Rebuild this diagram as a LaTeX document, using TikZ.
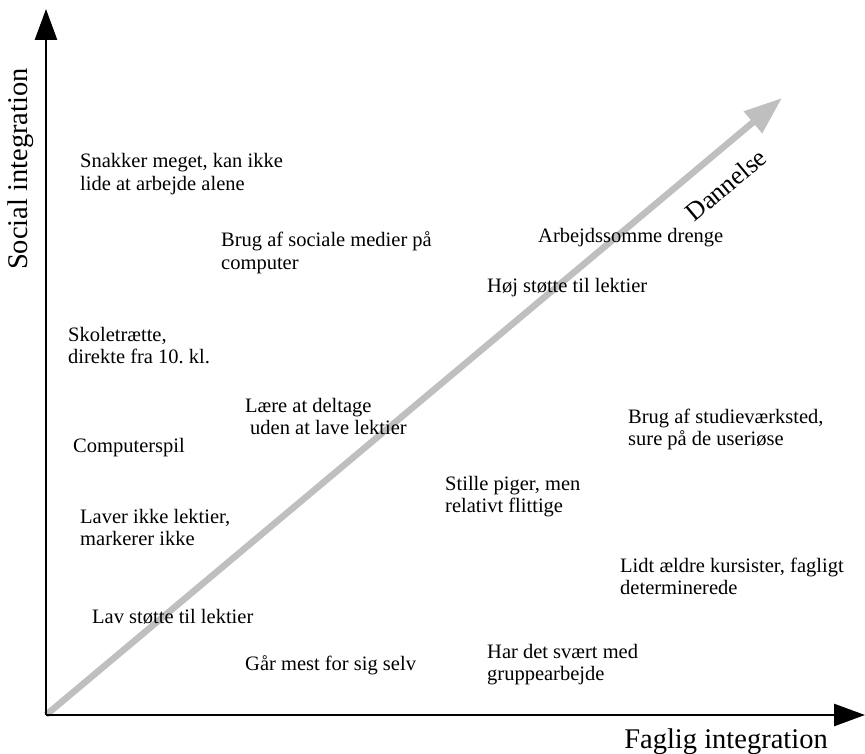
\documentclass[tikz,border=0pt]{standalone}
\usepackage{fontspec}
\setmainfont{Liberation Serif}
\usetikzlibrary{arrows.meta}
\frenchspacing
\begin{document}
\begin{tikzpicture}[x=1pt,y=-1pt,
  axis/.style={line width=2.7pt,draw=black,-{Triangle[length=31pt,width=22pt]}},
  devarrow/.style={line width=6.5pt,draw=black!25,-{Triangle[length=38pt,width=27pt]}},
  lbl/.style={inner sep=0pt,anchor=base west,font=\fontsize{20.5}{22.5}\selectfont},
  axlbl/.style={inner sep=0pt,font=\fontsize{28.5}{32}\selectfont}]
\useasboundingbox (0,0) rectangle (865,754);
\coordinate (O) at (46,715);
\coordinate (ytip) at (46,9);
\coordinate (xtip) at (865,715);
\coordinate (dtip) at (782,98);
\draw[devarrow] (O) -- (dtip);
\draw[axis] (O) -- (ytip);
\draw[axis] (O) -- (xtip);
\node[axlbl,rotate=90] (ylab) at (21,169) {Social integration};
\node[axlbl,anchor=base] (xlab) at (726,748) {Faglig integration};
\node[inner sep=0pt,font=\fontsize{26}{30}\selectfont,rotate=40] (dan) at (726,185) {Dannelse};
\node[lbl] (t1) at (80,168) {\begin{tabular}[t]{@{}l@{}}Snakker meget, kan ikke\\lide at arbejde alene\end{tabular}};
\node[lbl] (t2) at (221,247) {\begin{tabular}[t]{@{}l@{}}Brug af sociale medier på\\computer\end{tabular}};
\node[lbl] (t3) at (538,243) {Arbejdssomme drenge};
\node[lbl] (t4) at (487,292) {Høj støtte til lektier};
\node[lbl] (t5) at (68,341) {\begin{tabular}[t]{@{}l@{}}Skoletrætte,\\direkte fra 10. kl.\end{tabular}};
\node[lbl] (t6) at (245,412) {\begin{tabular}[t]{@{}l@{}}Lære at deltage\\\hspace{5pt}uden at lave lektier\end{tabular}};
\node[lbl] (t7) at (73,452) {Computerspil};
\node[lbl] (t8) at (628,423) {\begin{tabular}[t]{@{}l@{}}Brug af studieværksted,\\sure på de useriøse\end{tabular}};
\node[lbl] (t9) at (445,490) {\begin{tabular}[t]{@{}l@{}}Stille piger, men\\relativt flittige\end{tabular}};
\node[lbl] (t10) at (80,523) {\begin{tabular}[t]{@{}l@{}}Laver ikke lektier,\\markerer ikke\end{tabular}};
\node[lbl] (t11) at (620,572) {\begin{tabular}[t]{@{}l@{}}Lidt ældre kursister, fagligt\\determinerede\end{tabular}};
\node[lbl] (t12) at (92,623) {Lav støtte til lektier};
\node[lbl] (t13) at (245,670) {Går mest for sig selv};
\node[lbl] (t14) at (487,658) {\begin{tabular}[t]{@{}l@{}}Har det svært med\\gruppearbejde\end{tabular}};
\end{tikzpicture}
\end{document}
